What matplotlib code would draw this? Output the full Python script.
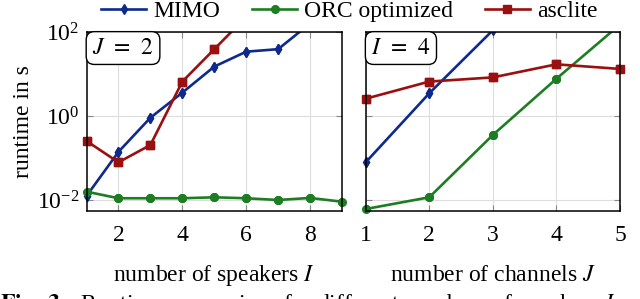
import numpy as np
import matplotlib
matplotlib.use('Agg')
import matplotlib.pyplot as plt
from matplotlib.ticker import NullLocator
from matplotlib.transforms import blended_transform_factory

plt.rcParams['font.family'] = ['Liberation Serif', 'DejaVu Serif']
plt.rcParams['mathtext.fontset'] = 'stix'
plt.rcParams['font.size'] = 17

# left panel: J = 2, varying number of speakers
speakers = [1, 2, 3, 4, 5, 6, 7, 8, 9]
mimo_spk = [0.0125, 0.14, 0.91, 3.6, 15, 34, 39, 160, 800]
orc_spk = [0.0158, 0.011, 0.011, 0.011, 0.0116, 0.011, 0.010, 0.0112, 0.0091]
asclite_spk = [0.254, 0.079, 0.204, 6.6, 39, 230]

# right panel: I = 4, varying number of channels
channels = [1, 2, 3, 4, 5]
mimo_ch = [0.079, 3.47, 110, 4000, 100000]
orc_ch = [0.0061, 0.0116, 0.353, 7.7, 150]
asclite_ch = [2.58, 6.6, 8.3, 17, 13.2]

c_mimo = '#0d2a8c'
c_orc = '#1d7d22'
c_asc = '#9a1010'

ylo, yhi = 10 ** -2.262, 1e2

fig = plt.figure(figsize=(6.4, 2.99), dpi=100)
ax1 = fig.add_axes([0.1352, 0.2943, 0.3992, 0.5987])
ax2 = fig.add_axes([0.5714, 0.2943, 0.3973, 0.5987])


def draw(ax, x, y, color, marker, ms, label=None):
    x = np.asarray(x[:len(y)], dtype=float)
    y = np.asarray(y, dtype=float)
    ax.plot(x, y, color=color, lw=1.9, label=label, marker=marker, ms=ms)
    # markers on the border should not be cut in half
    inside = (y >= ylo) & (y <= yhi)
    ax.plot(x[inside], y[inside], ls='none', marker=marker, ms=ms,
            color=color, clip_on=False)


for ax, x, data, xlim, tag, xlab in [
        (ax1, speakers, (mimo_spk, orc_spk, asclite_spk), (1, 9),
         '$J\\;\\,=\\;\\,2$', 'number of speakers $I$'),
        (ax2, channels, (mimo_ch, orc_ch, asclite_ch), (1, 5),
         '$I\\;\\,=\\;\\,4$', 'number of channels $J$')]:
    draw(ax, x, data[0], c_mimo, 'd', 5, 'MIMO')
    draw(ax, x, data[1], c_orc, 'o', 5.5, 'ORC optimized')
    draw(ax, x, data[2], c_asc, 's', 5.5, 'asclite')
    ax.set_yscale('log')
    ax.set_ylim(ylo, yhi)
    ax.set_xlim(*xlim)
    ax.set_yticks([1e-2, 1e0, 1e2])
    ax.yaxis.set_minor_locator(NullLocator())
    ax.grid(True, color='#dddddd', lw=0.8)
    ax.set_axisbelow(True)
    ax.tick_params(direction='in', top=True, right=True, length=4,
                   color='#888888', labelsize=17)
    ax.tick_params(axis='x', pad=10)
    ax.tick_params(axis='y', pad=5)
    for s in ax.spines.values():
        s.set_linewidth(1.1)
    # label box tucked into the upper left corner
    ax.annotate(tag, xy=(0, 1), xycoords='axes fraction',
                xytext=(4.0, -4.0), textcoords='offset points',
                ha='left', va='top', fontsize=17,
                bbox=dict(boxstyle='round,pad=0.25,rounding_size=0.35',
                          fc='white', ec='black', lw=1.0))
    # x labels on a common baseline
    ax.text(0.5, 0.060, xlab,
            transform=blended_transform_factory(ax.transAxes, fig.transFigure),
            ha='center', va='baseline', fontsize=17)

ax1.set_xticks([2, 4, 6, 8])
ax2.set_xticks([1, 2, 3, 4, 5])
ax2.set_yticklabels([])
ax1.set_ylabel('runtime in s', labelpad=2)

handles, labels = ax1.get_legend_handles_labels()
fig.legend(handles, labels, loc='center', ncol=3, frameon=False,
           bbox_to_anchor=(0.546, 0.962), handlelength=1.9,
           columnspacing=1.35, handletextpad=0.3, fontsize=17, borderpad=0)

fig.text(0.0, -0.036, r'$\mathbf{Fig.\ 3:}$ Runtime comparison for different numbers of speakers $I$ and',
         ha='left', va='baseline', fontsize=17)

fig.savefig('out.png', dpi=100)
